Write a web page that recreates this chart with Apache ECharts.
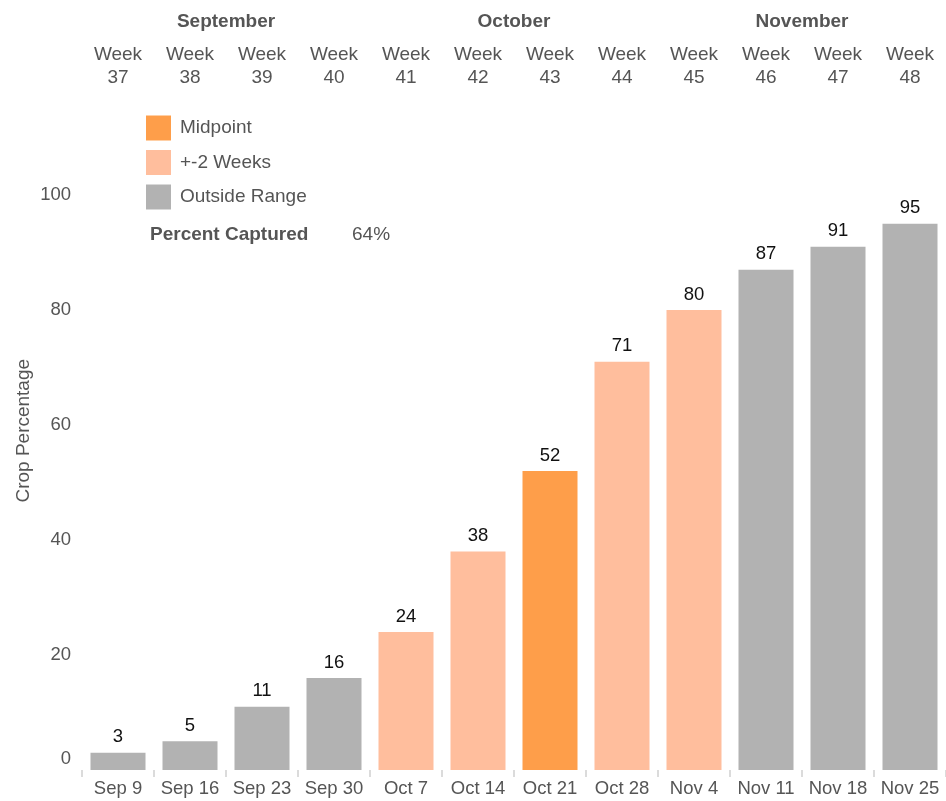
<!DOCTYPE html>
<html><head><meta charset="utf-8">
<script src="https://cdn.jsdelivr.net/npm/echarts@6/dist/echarts.min.js"></script>
<style>html,body{margin:0;padding:0;background:#fff}#c{width:946px;height:801px}</style>
</head><body><div id="c"></div>
<script>
const categories = ['Sep 9','Sep 16','Sep 23','Sep 30','Oct 7','Oct 14','Oct 21','Oct 28','Nov 4','Nov 11','Nov 18','Nov 25'];
const weeks = ['37','38','39','40','41','42','43','44','45','46','47','48'];
const months = ['September','October','November'];
const values = [3,5,11,16,24,38,52,71,80,87,91,95];
const status = ['Outside Range','Outside Range','Outside Range','Outside Range','+-2 Weeks','+-2 Weeks','Midpoint','+-2 Weeks','+-2 Weeks','Outside Range','Outside Range','Outside Range'];
const groups = ['Midpoint','+-2 Weeks','Outside Range'];
const colors = {'Midpoint':'#FE9E4A','+-2 Weeks':'#FFBE9D','Outside Range':'#B2B2B2'};
const percentCaptured = '64%';

const FONT = 'Liberation Sans, Arial, sans-serif';
const FS = 19;
const TXT = '#555';

const chart = echarts.init(document.getElementById('c'));
const series = groups.map(g => ({
  name: g,
  type: 'bar',
  xAxisIndex: 0,
  barWidth: 55,
  barGap: '-100%',
  itemStyle: { color: colors[g] },
  label: { show: true, position: 'top', distance: 6, color: '#111', fontSize: 18.5, fontFamily: FONT },
  data: values.map((v, i) => status[i] === g ? v : '-')
}));

chart.setOption({
  animation: false,
  textStyle: { fontFamily: FONT },
  grid: { left: 82, right: 0, top: 91.5, bottom: 31 },
  legend: {
    orient: 'vertical', left: 146, top: 115.5, padding: 0,
    data: groups, itemWidth: 25, itemHeight: 25, itemGap: 9.5,
    icon: 'rect',
    textStyle: { color: TXT, fontSize: FS, fontFamily: FONT, padding: [0,0,0,4] },
    selectedMode: false
  },
  xAxis: [
    { type: 'category', data: categories, position: 'bottom',
      axisLine: { show: false },
      axisTick: { show: true, length: 7, lineStyle: { color: '#cfcfcf', width: 1.5 } },
      axisLabel: { color: TXT, fontSize: 18.5, fontFamily: FONT, margin: 9, interval: 0 } },
    { type: 'category', data: weeks.map(w => 'Week\n' + w), position: 'top', gridIndex: 0,
      axisLine: { show: false }, axisTick: { show: false },
      axisLabel: { color: TXT, fontSize: FS, fontFamily: FONT, lineHeight: 23, margin: 2, interval: 0 } },
    { type: 'category', data: months, position: 'top', gridIndex: 0, offset: 54,
      axisLine: { show: false }, axisTick: { show: false },
      axisLabel: { color: TXT, fontSize: FS, fontWeight: 'bold', fontFamily: FONT, lineHeight: 23, margin: 4, interval: 0 } }
  ],
  yAxis: {
    type: 'value', min: 0, max: 118, interval: 20,
    name: 'Crop Percentage', nameLocation: 'middle', nameGap: 49, nameMoveOverlap: false,
    nameTextStyle: { color: TXT, fontSize: 19, fontFamily: FONT },
    splitLine: { show: false }, axisLine: { show: false }, axisTick: { show: false },
    axisLabel: { color: TXT, fontSize: 18.5, fontFamily: FONT, margin: 11,
      formatter: v => v > 100 ? '' : (v === 0 ? '{z|0}' : String(v)),
      rich: { z: { color: TXT, fontSize: 18.5, fontFamily: FONT, padding: [0,0,22,0] } } }
  },
  graphic: [
    { type: 'text', left: 150, top: 225, style: { text: 'Percent Captured', fill: TXT, font: 'bold 19px ' + FONT } },
    { type: 'text', left: 352, top: 225, style: { text: percentCaptured, fill: TXT, font: '19px ' + FONT } }
  ],
  series: series
});
</script></body></html>
